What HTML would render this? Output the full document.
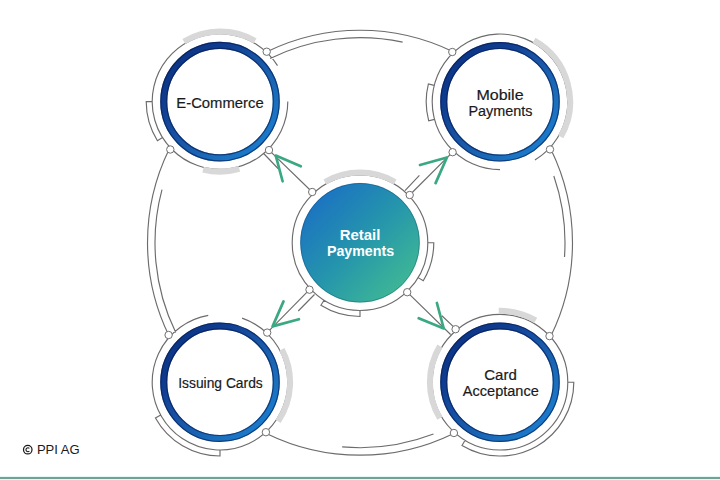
<!DOCTYPE html>
<html><head><meta charset="utf-8"><style>html,body{margin:0;padding:0;background:#fff;}svg{display:block;}</style></head>
<body><svg width="720" height="480" viewBox="0 0 720 480"><defs><linearGradient id="ring" x1="0" y1="0" x2="1" y2="1"><stop offset="0" stop-color="#0a2a70"/><stop offset="0.15" stop-color="#0d3788"/><stop offset="0.27" stop-color="#0f3d90"/><stop offset="0.5" stop-color="#1856a8"/><stop offset="0.73" stop-color="#1a6ebc"/><stop offset="0.85" stop-color="#1a78c8"/><stop offset="1" stop-color="#1c80d0"/></linearGradient><linearGradient id="core" x1="0" y1="0" x2="1" y2="1"><stop offset="0" stop-color="#1a6cc0"/><stop offset="0.15" stop-color="#1c75c0"/><stop offset="0.5" stop-color="#2595ac"/><stop offset="0.85" stop-color="#3db596"/><stop offset="1" stop-color="#42bb90"/></linearGradient></defs><rect width="720" height="480" fill="#fff"/><path d="M266.85 51.71A212.5 212.5 0 0 1 453.15 51.71M169.01 335.85A212.5 212.5 0 0 1 169.01 149.55M550.99 149.55A212.5 212.5 0 0 1 550.99 335.85M453.15 433.69A212.5 212.5 0 0 1 266.85 433.69M270.13 58.45A205 205 0 0 1 402.62 42.18M175.75 332.57A205 205 0 0 1 161.99 189.64M553.83 175.96A205 205 0 0 1 564.5 257M433.47 434.08A205 205 0 0 1 342.13 446.92M287.8 101.6A67.8 67.8 0 1 1 277.5 65.67M162.5 137.53L157.41 140.71A73.8 73.8 0 0 1 146.2 101.6L152.2 101.6M500 169.6A67.8 67.8 0 1 1 557.5 137.73M557.5 137.73A67.8 67.8 0 0 1 534.92 159.92M434.51 119.35L428.71 120.9A73.8 73.8 0 0 1 428.39 83.95L434.21 85.4M242.07 318.09A67.8 67.8 0 1 1 208.23 315.43M220 450L220 456A73.8 73.8 0 0 1 155.45 417.98L160.7 415.07M567.8 382.2A67.8 67.8 0 0 1 432.2 382.2A67.8 67.8 0 0 1 567.8 382.2M567.8 382.2L573.8 382.2A73.8 73.8 0 0 1 461.99 445.46L465.08 440.32M427.8 242.7A67.8 67.8 0 0 1 292.2 242.7A67.8 67.8 0 0 1 427.8 242.7M427.8 242.7L433.8 242.7A73.8 73.8 0 0 1 423.26 280.71L418.12 277.62M360 310.5L360 316.5A73.8 73.8 0 0 1 320.89 305.29L324.07 300.2M269 150.1L312.2 192M263.9 153.75L278.25 168.75M409.7 195L452.6 152.2M405 190.6L419.4 175.4M309.5 289.7L267.2 332.6M314.5 294.5L298.25 311M407.2 292.2L450.6 334.5M441.9 315.75L453.1 326.4" fill="none" stroke="#6c6c6c" stroke-width="1.15"/><path d="M183.9 41.51A70.1 70.1 0 0 1 255.05 40.89M239.32 168.98A70.1 70.1 0 0 1 203.04 169.62M533.99 40.49A70.1 70.1 0 0 1 560.71 136.85M281.89 349.29A70.1 70.1 0 0 1 278.12 421.4M498.75 310.81A71.4 71.4 0 0 1 535.7 320.37M439.91 418.3A70.1 70.1 0 0 1 439.91 346.1M324.95 181.99A70.1 70.1 0 0 1 395.05 181.99" fill="none" stroke="#d8d8d8" stroke-width="6"/><circle cx="220" cy="101.6" r="56.25" fill="#fff" stroke="url(#ring)" stroke-width="7.1"/><circle cx="220" cy="101.6" r="53.3" fill="none" stroke="#06184a" stroke-opacity="0.6" stroke-width="1.2"/><circle cx="220" cy="101.6" r="59.2" fill="none" stroke="#06184a" stroke-opacity="0.6" stroke-width="1.2"/><circle cx="500" cy="101.8" r="56.25" fill="#fff" stroke="url(#ring)" stroke-width="7.1"/><circle cx="500" cy="101.8" r="53.3" fill="none" stroke="#06184a" stroke-opacity="0.6" stroke-width="1.2"/><circle cx="500" cy="101.8" r="59.2" fill="none" stroke="#06184a" stroke-opacity="0.6" stroke-width="1.2"/><circle cx="220" cy="382.2" r="56.25" fill="#fff" stroke="url(#ring)" stroke-width="7.1"/><circle cx="220" cy="382.2" r="53.3" fill="none" stroke="#06184a" stroke-opacity="0.6" stroke-width="1.2"/><circle cx="220" cy="382.2" r="59.2" fill="none" stroke="#06184a" stroke-opacity="0.6" stroke-width="1.2"/><circle cx="500" cy="382.2" r="56.25" fill="#fff" stroke="url(#ring)" stroke-width="7.1"/><circle cx="500" cy="382.2" r="53.3" fill="none" stroke="#06184a" stroke-opacity="0.6" stroke-width="1.2"/><circle cx="500" cy="382.2" r="59.2" fill="none" stroke="#06184a" stroke-opacity="0.6" stroke-width="1.2"/><circle cx="360" cy="242.7" r="59.8" fill="url(#core)"/><circle cx="360" cy="242.7" r="59.4" fill="none" stroke="#0a3050" stroke-opacity="0.35" stroke-width="0.8"/><circle cx="266.7" cy="51.7" r="3.7" fill="#fff" stroke="#707070" stroke-width="1"/><circle cx="269" cy="150.1" r="3.7" fill="#fff" stroke="#707070" stroke-width="1"/><circle cx="170.3" cy="149.5" r="3.7" fill="#fff" stroke="#707070" stroke-width="1"/><circle cx="452.3" cy="52" r="3.7" fill="#fff" stroke="#707070" stroke-width="1"/><circle cx="452.6" cy="152.2" r="3.7" fill="#fff" stroke="#707070" stroke-width="1"/><circle cx="550" cy="149.4" r="3.7" fill="#fff" stroke="#707070" stroke-width="1"/><circle cx="168.6" cy="335" r="3.7" fill="#fff" stroke="#707070" stroke-width="1"/><circle cx="267.2" cy="332.6" r="3.7" fill="#fff" stroke="#707070" stroke-width="1"/><circle cx="265.9" cy="432.2" r="3.7" fill="#fff" stroke="#707070" stroke-width="1"/><circle cx="455.6" cy="329.2" r="3.7" fill="#fff" stroke="#707070" stroke-width="1"/><circle cx="549.5" cy="336.1" r="3.7" fill="#fff" stroke="#707070" stroke-width="1"/><circle cx="453.9" cy="433" r="3.7" fill="#fff" stroke="#707070" stroke-width="1"/><circle cx="312.2" cy="192" r="3.7" fill="#fff" stroke="#707070" stroke-width="1"/><circle cx="409.7" cy="195" r="3.7" fill="#fff" stroke="#707070" stroke-width="1"/><circle cx="309.5" cy="289.7" r="3.7" fill="#fff" stroke="#707070" stroke-width="1"/><circle cx="407.2" cy="292.2" r="3.7" fill="#fff" stroke="#707070" stroke-width="1"/><path d="M300.75 166.25L275.75 155.6L282.6 181.25M420 165L446.9 157.5L435.6 183.1M283.5 301.4L272.6 326.4L298.9 319.25M436.9 303L443.75 328.5L418.75 318.25" fill="none" stroke="#3aa982" stroke-width="2.7" stroke-linecap="round" stroke-linejoin="round"/><g font-family="Liberation Sans, sans-serif"><text x="220" y="107.9" font-size="13.8" font-weight="normal" fill="#1a1a1a" stroke="#1a1a1a" stroke-width="0.18" text-anchor="middle" textLength="87.3" lengthAdjust="spacingAndGlyphs">E-Commerce</text><text x="500" y="100.3" font-size="13.8" font-weight="normal" fill="#1a1a1a" stroke="#1a1a1a" stroke-width="0.18" text-anchor="middle" textLength="47.2" lengthAdjust="spacingAndGlyphs">Mobile</text><text x="500.5" y="115.8" font-size="13.8" font-weight="normal" fill="#1a1a1a" stroke="#1a1a1a" stroke-width="0.18" text-anchor="middle" textLength="64" lengthAdjust="spacingAndGlyphs">Payments</text><text x="220.5" y="387.9" font-size="13.8" font-weight="normal" fill="#1a1a1a" stroke="#1a1a1a" stroke-width="0.18" text-anchor="middle" textLength="84.5" lengthAdjust="spacingAndGlyphs">Issuing Cards</text><text x="500.5" y="380.2" font-size="13.8" font-weight="normal" fill="#1a1a1a" stroke="#1a1a1a" stroke-width="0.18" text-anchor="middle" textLength="32.5" lengthAdjust="spacingAndGlyphs">Card</text><text x="500.8" y="395.8" font-size="13.8" font-weight="normal" fill="#1a1a1a" stroke="#1a1a1a" stroke-width="0.18" text-anchor="middle" textLength="75.9" lengthAdjust="spacingAndGlyphs">Acceptance</text><text x="360" y="240.3" font-size="13.8" font-weight="bold" fill="#fff" text-anchor="middle" textLength="40.7" lengthAdjust="spacingAndGlyphs">Retail</text><text x="360.5" y="256.4" font-size="13.8" font-weight="bold" fill="#fff" text-anchor="middle" textLength="67.2" lengthAdjust="spacingAndGlyphs">Payments</text><text x="36.9" y="454.2" font-size="12.6" fill="#1a1a1a" textLength="42.8" lengthAdjust="spacingAndGlyphs">PPI AG</text><circle cx="27.75" cy="449.7" r="4.25" fill="none" stroke="#1a1a1a" stroke-width="1.25"/><path d="M29.4 448.3A2 2 0 1 0 29.4 451.1" fill="none" stroke="#1a1a1a" stroke-width="1.1"/></g><rect x="0" y="476" width="720" height="1" fill="#e6f9f8"/><rect x="0" y="477" width="720" height="2" fill="#6fa194"/><rect x="0" y="479" width="720" height="1" fill="#e2f7f6"/></svg></body></html>
